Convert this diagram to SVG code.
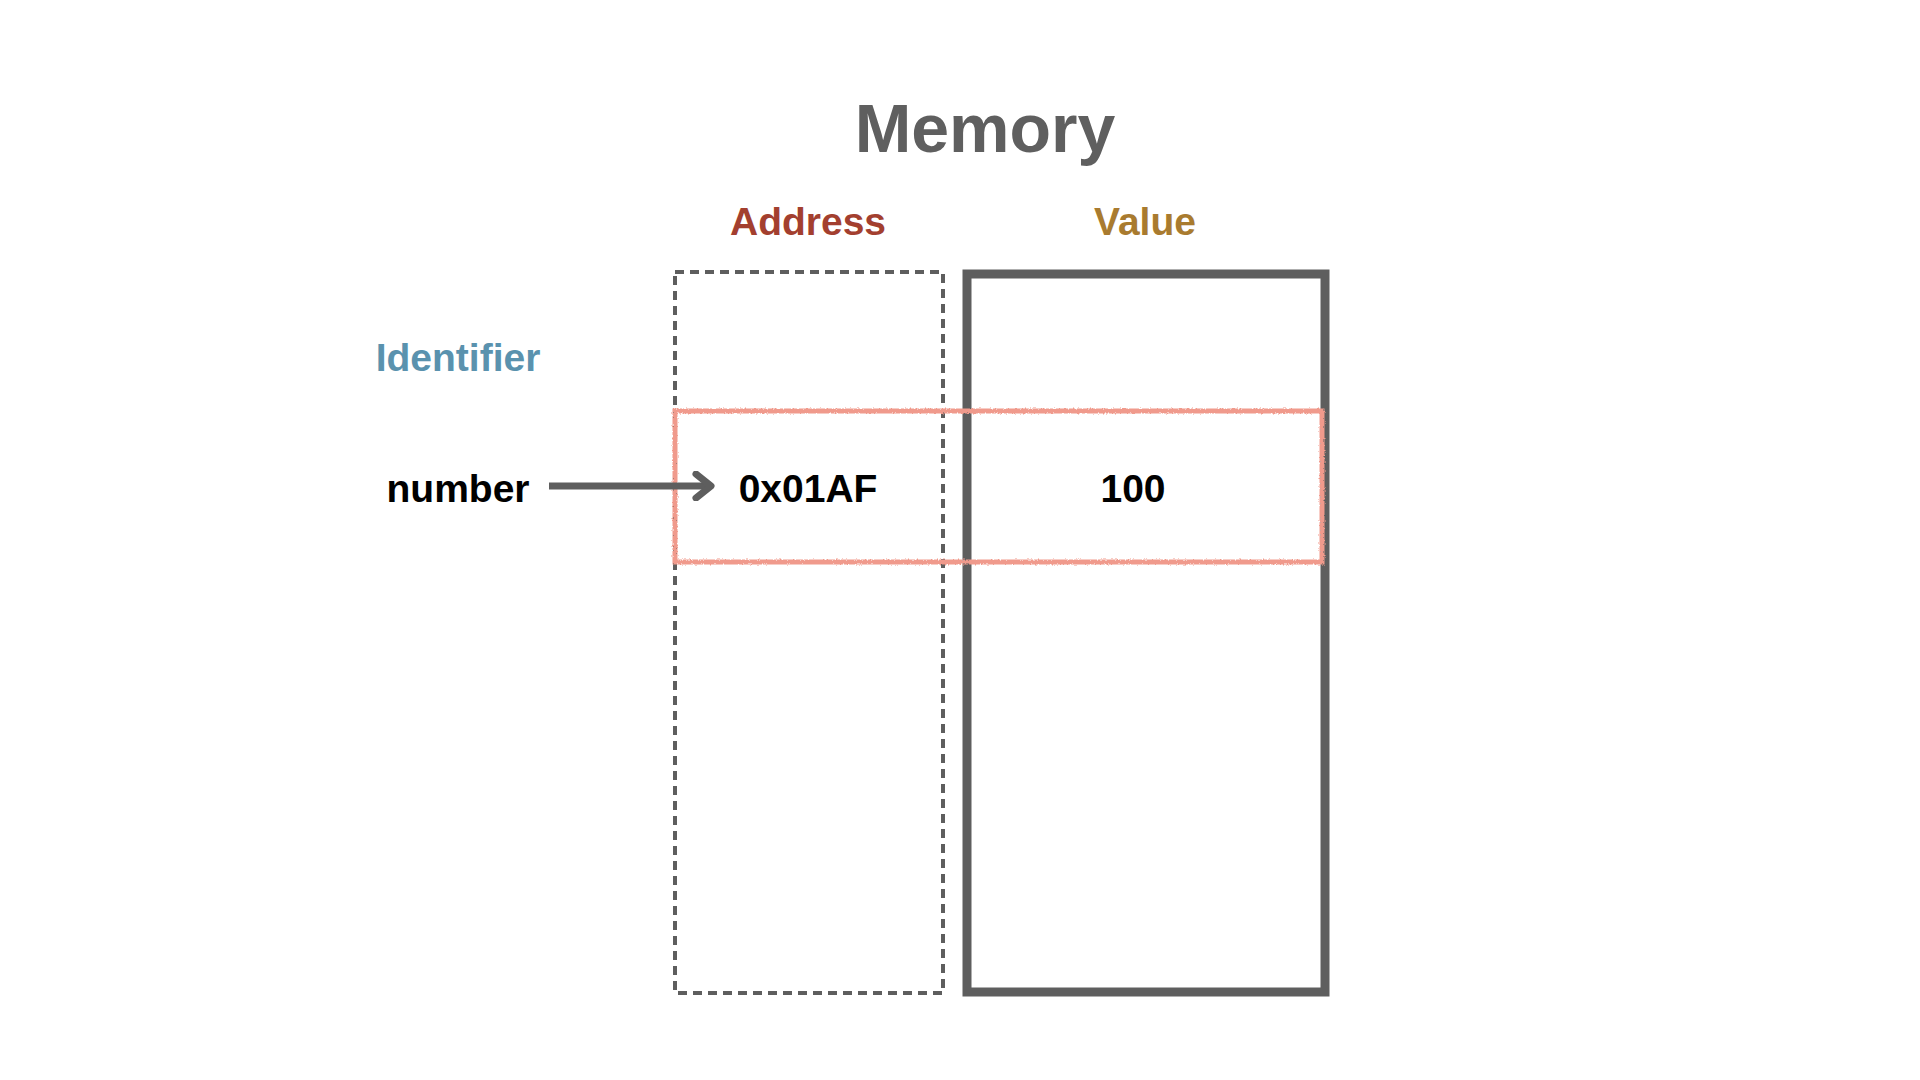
<svg xmlns="http://www.w3.org/2000/svg" width="1920" height="1080" viewBox="0 0 1920 1080">
<style>
text{font-family:"Liberation Sans",Arial,sans-serif;font-weight:bold;text-anchor:middle}
.lbl{font-size:39px}
</style>
<defs>
<filter id="rough" x="-2%" y="-5%" width="104%" height="110%">
<feTurbulence type="fractalNoise" baseFrequency="0.6" numOctaves="2" seed="3"/>
<feDisplacementMap in="SourceGraphic" scale="3"/>
</filter>
<marker id="chev" viewBox="0 0 24 30" refX="20" refY="15" markerWidth="24" markerHeight="30" markerUnits="userSpaceOnUse" orient="auto">
<path d="M5 3 L20 15 L5 27" fill="none" stroke="#5e5e5e" stroke-width="7" stroke-linecap="round" stroke-linejoin="round"/>
</marker>
</defs>
<rect width="1920" height="1080" fill="#ffffff"/>
<g id="title"><text x="985" y="152" font-size="68" fill="#5f5f5f">Memory</text></g>
<g id="address-header"><text class="lbl" x="808" y="235" fill="#a33f2f">Address</text></g>
<g id="value-header"><text class="lbl" x="1145" y="235" fill="#a97b2f">Value</text></g>
<g id="identifier-header"><text class="lbl" x="458" y="371" fill="#5a92ae">Identifier</text></g>
<g id="address-column"><rect x="675" y="272" width="268" height="721" fill="none" stroke="#5e5e5e" stroke-width="4" stroke-dasharray="9 6"/></g>
<g id="value-column"><rect x="967" y="274" width="358" height="718" fill="none" stroke="#5e5e5e" stroke-width="9"/></g>
<g id="row"><rect x="675" y="411" width="647" height="151" fill="none" stroke="#f09a8c" stroke-width="5" filter="url(#rough)"/></g>
<g id="number"><text class="lbl" x="458" y="502" fill="#000">number</text></g>
<g id="addr-value"><text class="lbl" x="808" y="502" fill="#000">0x01AF</text></g>
<g id="val-value"><text class="lbl" x="1133" y="502" fill="#000">100</text></g>
<g id="connectors">
<line x1="549" y1="486" x2="711" y2="486" stroke="#5e5e5e" stroke-width="7" marker-end="url(#chev)"/>
</g>
</svg>
